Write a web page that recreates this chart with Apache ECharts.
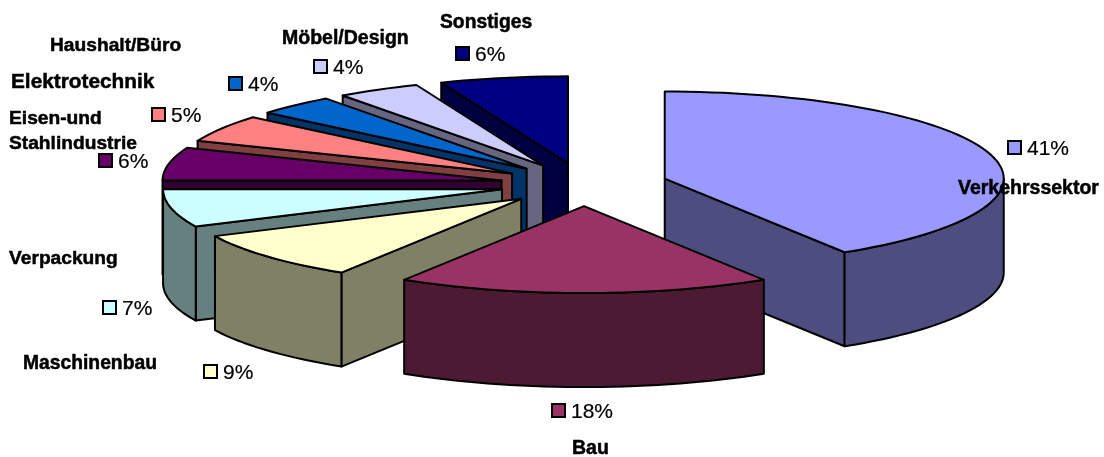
<!DOCTYPE html>
<html><head><meta charset="utf-8">
<style>html,body{margin:0;padding:0;background:#fff}#c{width:1104px;height:457px}</style>
<script src="https://cdn.jsdelivr.net/npm/echarts@6/dist/echarts.min.js"></script>
</head><body><div id="c"></div>
<script>
var categories = ['Verkehrssektor','Bau','Maschinenbau','Verpackung','Eisen-und\nStahlindustrie','Elektrotechnik','Haushalt/Büro','Möbel/Design','Sonstiges'];
var values = [41.1,17.8,9.05,7.05,6.1,5.05,3.78,3.97,6.1];
var topColors = ['#9999FF','#993366','#FFFFCC','#CCFFFF','#660066','#FF8080','#0066CC','#CCCCFF','#000080'];
var wallColors = ['#4D4D80','#4D1A33','#808066','#668080','#330033','#804040','#003366','#666680','#000040'];
var percentLabels = ['41%','18%','9%','7%','6%','5%','4%','4%','6%'];

// layout of the projected pie
var pie = {cx:584, cy:184.5, rx:339, ry:87, depth:94, explode:84};
// layout of the labels: [name x, name y, key x, key y, name font size]
var labelPos = [[958,189,1008,141,19.5],[572,449,552,404,19.5],[23,364,204,365,19.3],[9,259,103,301,19.2],[9,131,99,154,19.2],[11,82,152,108,20.8],[50,46,229,77,19.2],[282,39,314,60,19.5],[440,23,456,47,19.3]];

var total = values.reduce(function(a,b){return a+b;},0);
var DEG = Math.PI/180;
var slices = []; var acc = 0;
values.forEach(function(v,i){
  var a = acc/total*360; acc += v; var b = acc/total*360; var m=(a+b)/2;
  var k = pie.ry/pie.rx;
  slices.push({i:i,a:a,b:b,
    ax:pie.cx+pie.explode*Math.sin(m*DEG),
    ay:pie.cy-pie.explode*k*Math.cos(m*DEG)});
});
var order = slices.slice().sort(function(p,q){return p.ay-q.ay;}).map(function(s){return s.i;});

function rim(s,t){return [s.ax+pie.rx*Math.sin(t*DEG), s.ay-pie.ry*Math.cos(t*DEG)];}
function arc(s,a,b){var n=Math.max(2,Math.ceil((b-a)/2)),p=[];for(var j=0;j<=n;j++){p.push(rim(s,a+(b-a)*j/n));}return p;}
function down(p){return [p[0],p[1]+pie.depth];}
function poly(points,fill){return {type:'polygon',shape:{points:points},style:{fill:fill,stroke:'#000',lineWidth:2,lineJoin:'round'}};}

function renderSlice(params,api){
  var s = slices[api.value(0)], kids=[], wall=wallColors[s.i], apex=[s.ax,s.ay];
  [[s.a,-Math.sin(s.a*DEG)],[s.b,Math.sin(s.b*DEG)]].forEach(function(f){
    if(f[1]>0.001){var r=rim(s,f[0]);kids.push(poly([apex,r,down(r),down(apex)],wall));}
  });
  var fa=Math.max(s.a,90),fb=Math.min(s.b,270);
  if(fb>fa){var top=arc(s,fa,fb);kids.push(poly(top.concat(top.slice().reverse().map(down)),wall));}
  kids.push(poly([apex].concat(arc(s,s.a,s.b)),topColors[s.i]));
  return {type:'group',children:kids};
}
function renderLabel(params,api){
  var i=api.value(0), p=labelPos[i];
  return {type:'group',children:[
    {type:'text',style:{x:p[0],y:p[1],text:categories[i],fill:'#000',stroke:'#000',lineWidth:0.5,
      font:'bold '+p[4]+'px "Liberation Sans"',lineHeight:25,verticalAlign:'middle'}},
    {type:'rect',shape:{x:p[2],y:p[3],width:13,height:13},style:{fill:topColors[i],stroke:'#000',lineWidth:2}},
    {type:'text',style:{x:p[2]+19,y:p[3]+8,text:percentLabels[i],fill:'#000',stroke:'#000',lineWidth:0.2,
      font:'21px "Liberation Sans"',verticalAlign:'middle'}}
  ]};
}
var chart = echarts.init(document.getElementById('c'),null,{renderer:'canvas'});
chart.setOption({
  animation:false,
  backgroundColor:'#fff',
  series:[
    {type:'custom',coordinateSystem:'none',silent:true,z:2,renderItem:renderSlice,
     data:order.map(function(i){return [i,values[i]];})},
    {type:'custom',coordinateSystem:'none',silent:true,z:5,renderItem:renderLabel,
     data:categories.map(function(c,i){return [i,values[i]];})}
  ]
});
</script></body></html>
